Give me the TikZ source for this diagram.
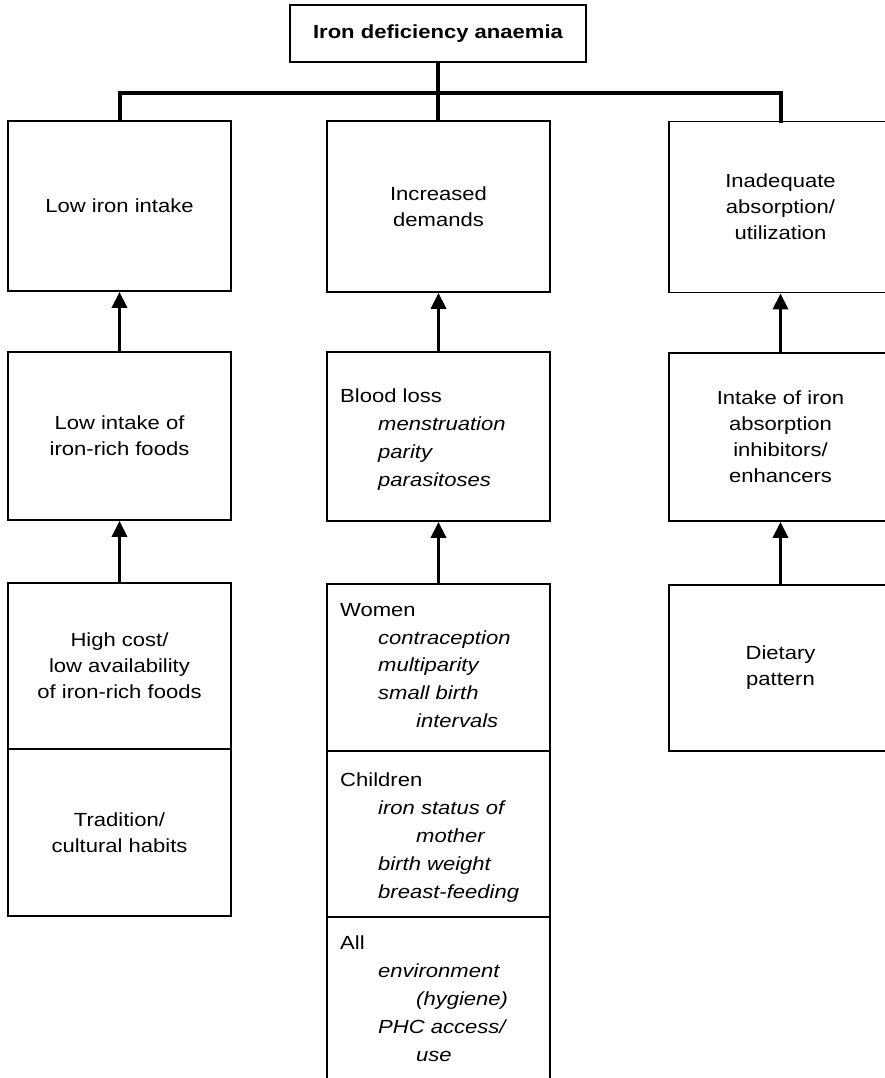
\documentclass[tikz,border=0pt]{standalone}
\usepackage{fontspec}
\setmainfont{Liberation Sans}[FakeStretch=1.16]
\usetikzlibrary{arrows.meta}
\begin{document}
\begin{tikzpicture}[x=1pt,y=-1pt,
  box/.style={draw, line width=1.8pt, minimum width=223pt, inner sep=0pt, align=center,
    font=\fontsize{19}{26}\selectfont},
  topbox/.style={draw, line width=1.8pt, minimum width=296pt, minimum height=57pt, inner sep=0pt,
    font=\fontsize{19}{26}\selectfont\bfseries},
  listtext/.style={anchor=north west, inner sep=0pt, align=left, font=\fontsize{19}{27.8}\selectfont},
  conn/.style={line width=4pt, line cap=rect},
  arr/.style={line width=3.6pt, -{Triangle[width=15pt,length=16pt]}}
]
\useasboundingbox (0,0) rectangle (885,1078);
\clip (0,0) rectangle (885,1078);

% top
\node[topbox] (top) at (438,33.5) {Iron deficiency anaemia};

% row 1
\node[box, minimum height=170pt] (L1) at (119.5,206) {Low iron intake};
\node[box, minimum height=171pt] (M1) at (438.5,206.5) {Increased\\demands};
\node[box, minimum height=171pt] (R1) at (780.5,207) {Inadequate\\absorption/\\utilization};

% row 2
\node[box, minimum height=168pt] (L2) at (119.5,436) {Low intake of\\iron-rich foods};
\node[box, minimum height=169pt] (M2) at (438.5,436.5) {};
\node[box, minimum height=168pt] (R2) at (780.5,437) {Intake of iron\\absorption\\inhibitors/\\enhancers};

% row 3
\node[box, minimum height=166pt] (L3) at (119.5,666) {High cost/\\low availability\\of iron-rich foods};
\node[box, minimum height=167pt] (L4) at (119.5,832.5) {Tradition/\\cultural habits};
\node[box, minimum height=167pt] (M3) at (438.5,667.5) {};
\node[box, minimum height=166pt] (M4) at (438.5,834) {};
\node[box, minimum height=183pt] (M5) at (438.5,1008.5) {};
\node[box, minimum height=166pt] (R3) at (780.5,668) {Dietary\\pattern};

% middle column texts
\node[listtext] (t2) at (340,389) {Blood loss\\
  \hspace*{38pt}\textit{menstruation}\\
  \hspace*{38pt}\textit{parity}\\
  \hspace*{38pt}\textit{parasitoses}};
\node[listtext] (t3) at (340,603) {Women\\
  \hspace*{38pt}\textit{contraception}\\
  \hspace*{38pt}\textit{multiparity}\\
  \hspace*{38pt}\textit{small birth}\\
  \hspace*{76pt}\textit{intervals}};
\node[listtext] (t4) at (340,773) {Children\\
  \hspace*{38pt}\textit{iron status of}\\
  \hspace*{76pt}\textit{mother}\\
  \hspace*{38pt}\textit{birth weight}\\
  \hspace*{38pt}\textit{breast-feeding}};
\node[listtext] (t5) at (340,936) {All\\
  \hspace*{38pt}\textit{environment}\\
  \hspace*{76pt}\textit{(hygiene)}\\
  \hspace*{38pt}\textit{PHC access/}\\
  \hspace*{76pt}\textit{use}};

% connectors
\coordinate (bar) at (0,93);
\draw[conn] (L1.north) -- (L1.north |- bar) -- (R1.north |- bar) -- (R1.north);
\draw[conn] (top.south) -- (top.south |- M1.north);

% arrows
\draw[arr] (L2.north) -- (L1.south);
\draw[arr] (M2.north) -- (M1.south);
\draw[arr] (R2.north) -- (R1.south);
\draw[arr] (L3.north) -- (L2.south);
\draw[arr] (M3.north) -- (M2.south);
\draw[arr] (R3.north) -- (R2.south);
\end{tikzpicture}
\end{document}
